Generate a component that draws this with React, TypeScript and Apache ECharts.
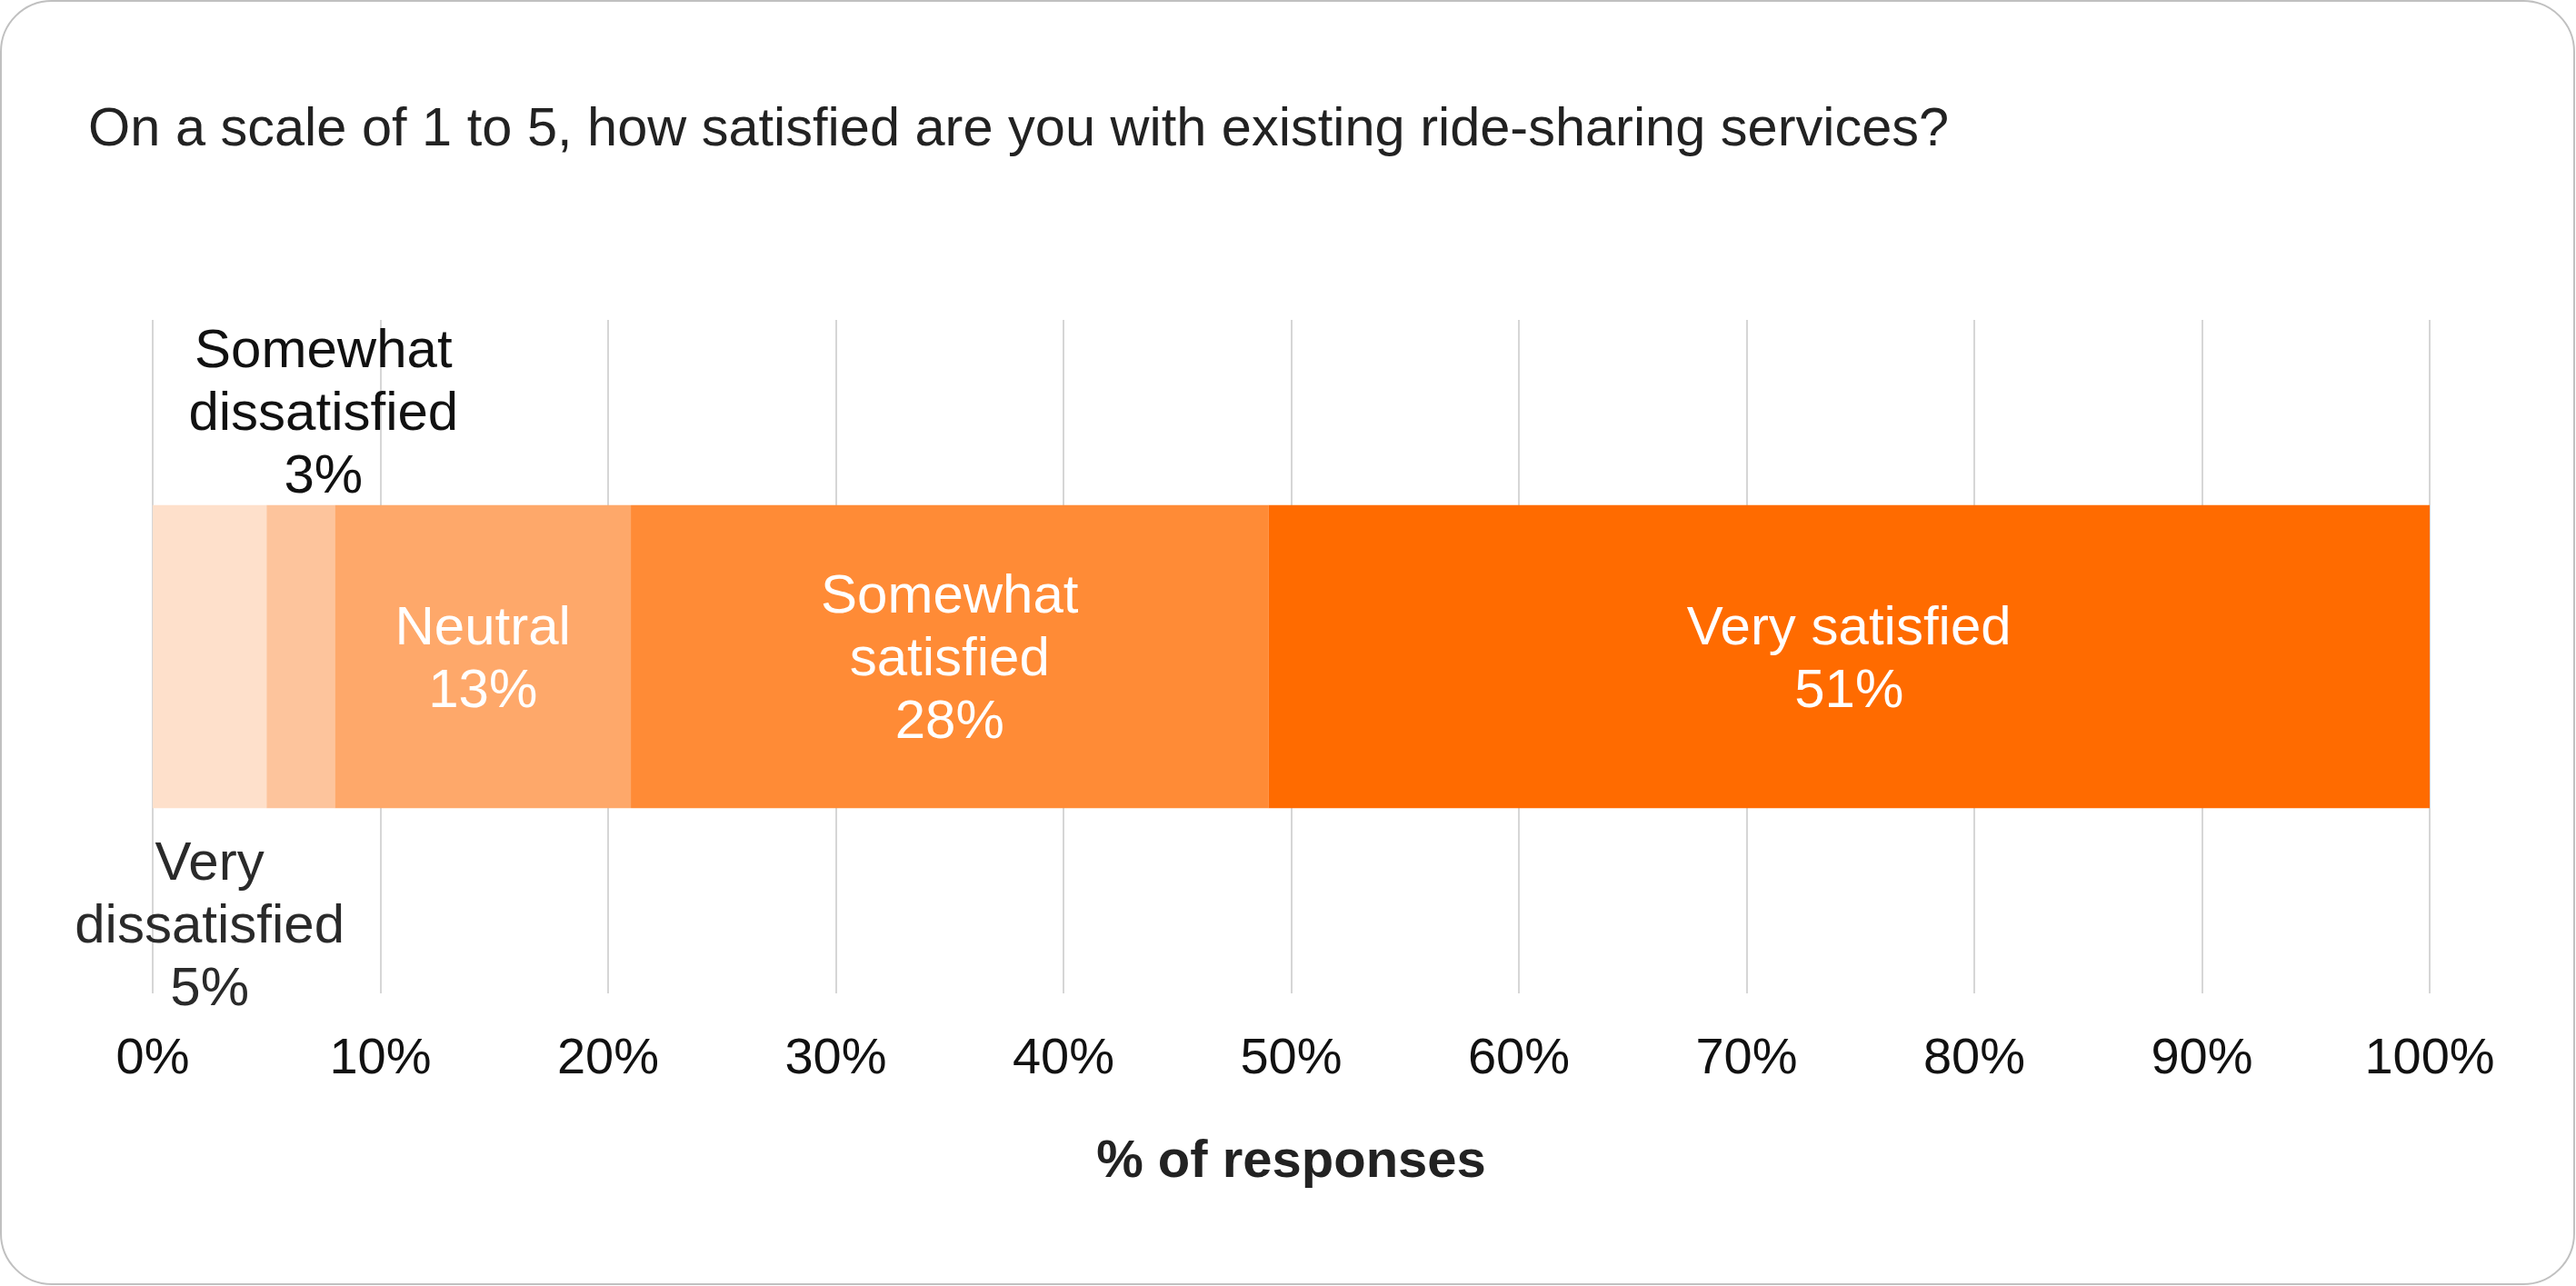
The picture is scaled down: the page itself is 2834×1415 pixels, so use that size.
import React, { useEffect, useRef } from "react";
import * as echarts from "echarts";

const chartTitle = "On a scale of 1 to 5, how satisfied are you with existing ride-sharing services?";
const categories = ["Satisfaction"];
const segmentNames = ["Very dissatisfied", "Somewhat dissatisfied", "Neutral", "Somewhat satisfied", "Very satisfied"];
const segmentLabels = ["Very\ndissatisfied", "Somewhat\ndissatisfied", "Neutral", "Somewhat\nsatisfied", "Very satisfied"];
const segmentValues = [5, 3, 13, 28, 51];
const segmentColors = ["#FEE0CB", "#FDC49C", "#FEA86A", "#FF8B36", "#FF6B00"];
const axisMin = 0;
const axisMax = 100;
const axisInterval = 10;
const axisName = "% of responses";

const FONT = "'Liberation Sans', Arial, Helvetica, sans-serif";

export default function App() {
  const ref = useRef<HTMLDivElement>(null);
  useEffect(() => {
    document.body.style.margin = "0";
    const chart = echarts.init(ref.current!, null, { renderer: "svg" });
    const labelStyle = (i: number) => {
      const base: any = {
        show: true,
        fontFamily: FONT,
        fontSize: 60,
        lineHeight: 69,
        align: "center",
        formatter: () => `${segmentLabels[i]}\n${segmentValues[i]}%`,
      };
      if (i === 0) return { ...base, position: "bottom", distance: 24, color: "#2a2a2a" };
      if (i === 1) return { ...base, position: "top", distance: 0, offset: [25, 0], color: "#111111" };
      return { ...base, position: "inside", color: "#ffffff" };
    };
    chart.setOption({
      animation: false,
      backgroundColor: "#ffffff",
      title: {
        text: chartTitle,
        left: 92,
        top: 104,
        textStyle: { fontFamily: FONT, fontSize: 59.5, fontWeight: "normal", color: "#222222" },
      },
      graphic: [
        {
          type: "rect",
          z: -10,
          shape: { x: 1, y: 1, width: 2831, height: 1412, r: 56 },
          style: { fill: "transparent", stroke: "#c0c0c0", lineWidth: 2 },
          silent: true,
        },
      ],
      grid: { left: 168, right: 161, top: 352, bottom: 322, containLabel: false },
      xAxis: {
        type: "value",
        min: axisMin,
        max: axisMax,
        interval: axisInterval,
        axisLine: { show: false },
        axisTick: { show: false },
        axisLabel: {
          formatter: "{value}%",
          fontFamily: FONT,
          fontSize: 56,
          color: "#111111",
          margin: 40,
        },
        splitLine: { show: true, lineStyle: { color: "#d6d6d6", width: 2 } },
        name: axisName,
        nameLocation: "middle",
        nameGap: 152,
        nameTextStyle: { fontFamily: FONT, fontSize: 58, fontWeight: "bold", color: "#222222" },
      },
      yAxis: {
        type: "category",
        data: categories,
        show: false,
      },
      series: segmentNames.map((name, i) => ({
        name,
        type: "bar",
        stack: "total",
        barWidth: "45%",
        data: [segmentValues[i]],
        itemStyle: { color: segmentColors[i] },
        label: labelStyle(i),
        emphasis: { disabled: true },
      })),
    });
    return () => chart.dispose();
  }, []);
  return (
    <div
      ref={ref}
      style={{ position: "fixed", left: 0, top: 0, width: 2834, height: 1415 }}
    />
  );
}
